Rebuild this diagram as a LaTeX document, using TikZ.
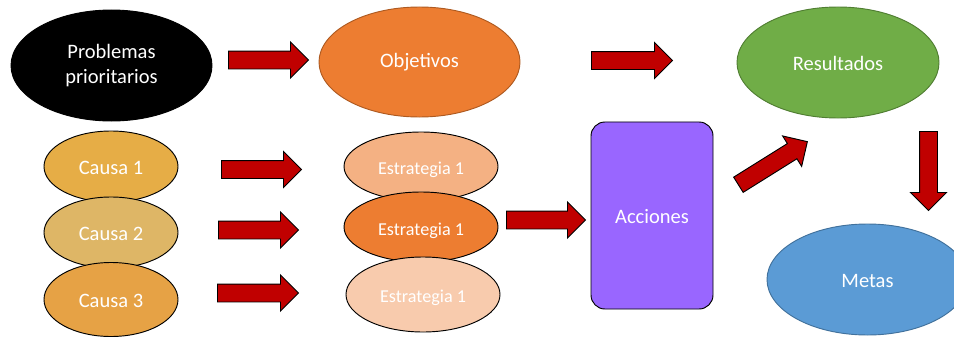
\documentclass[tikz,border=0pt]{standalone}
\usepackage{fontspec}
\setmainfont{Carlito}
\usetikzlibrary{shapes,shapes.arrows,positioning}

\definecolor{arrowred}{HTML}{C00000}
\definecolor{causaA}{HTML}{E6AD46}
\definecolor{causaB}{HTML}{DEB666}
\definecolor{causaC}{HTML}{E6A245}
\definecolor{estrA}{HTML}{F4B183}
\definecolor{estrB}{HTML}{ED7D31}
\definecolor{estrC}{HTML}{F8CBAD}
\definecolor{objfill}{HTML}{ED7D31}
\definecolor{objline}{HTML}{AE5A21}
\definecolor{resfill}{HTML}{70AD47}
\definecolor{resline}{HTML}{507E32}
\definecolor{metfill}{HTML}{5B9BD5}
\definecolor{metline}{HTML}{41719C}
\definecolor{accfill}{HTML}{9966FF}

\tikzset{
  oval/.style={ellipse,draw,line width=0.8pt,inner sep=0pt,text=white,align=center,font=\fontsize{17.5}{22}\selectfont},
  oneline/.style={text height=14pt,text depth=0pt},
  bigoval/.style={oval,minimum width=6.03cm,minimum height=3.33cm},
  causa/.style={oval,oneline,minimum width=4.02cm,minimum height=2.13cm},
  estrategia/.style={oval,oneline,minimum width=4.62cm,minimum height=2.1cm,font=\fontsize{15.5}{18}\selectfont},
  fatarrow/.style={single arrow,draw=black,fill=arrowred,line width=0.8pt,inner xsep=0pt,inner ysep=0.255cm,
    minimum height=2.4cm,single arrow head extend=0.27cm,anchor=tail},
}

\begin{document}
\begin{tikzpicture}[x=0.03cm,y=-0.03cm]
\clip (0,0) rectangle (954,337);

% top row
\node[bigoval,fill=black,draw=black] at (111.5,65.5) (problemas){Problemas\\prioritarios};
\node[bigoval,fill=objfill,draw=objline,minimum height=3.3cm] at (419.5,62) (objetivos){Objetivos};
\node[bigoval,oneline,fill=resfill,draw=resline,minimum width=6.06cm] at (838,62.5) (resultados){Resultados};

% causas
\node[causa,fill=causaA] at (111,166.5) (causa1){Causa 1};
\node[causa,fill=causaB] at (111,232.5) (causa2){Causa 2};
\node[causa,fill=causaC,minimum height=2.22cm] at (111,299.5) (causa3){Causa 3};

% estrategias
\node[estrategia,fill=estrA,minimum height=2.07cm] at (421,166.5) (estr1){Estrategia 1};
\node[estrategia,fill=estrB] at (421,227) (estr2){Estrategia 1};
\node[estrategia,fill=estrC,minimum height=2.25cm] at (423,294.5) (estr3){Estrategia 1};

\node[draw,line width=0.8pt,fill=accfill,rounded corners=0.42cm,minimum width=3.66cm,minimum height=5.61cm,
  oneline,text=white,font=\fontsize{17.5}{22}\selectfont] at (652,215.5) (acciones){Acciones};
\node[bigoval,oneline,fill=metfill,draw=metline] at (867.5,279.5) (metas){Metas};

% block arrows, placed by their tails
\node[fatarrow] at (228,60) (arr1){};
\node[fatarrow,minimum height=2.43cm] at (591,60.5) (arr2){};
\node[fatarrow] at (221,169.5) (arr3){};
\node[fatarrow] at (218,230) (arr4){};
\node[fatarrow,minimum height=2.43cm] at (217,293) (arr5){};
\node[fatarrow,minimum height=2.37cm] at (506,220) (arr6){};
\node[fatarrow,rotate=32,minimum height=2.44cm] at (738,185) (arr7){};
\node[fatarrow,rotate=-90,minimum height=2.37cm] at (928.5,131) (arr8){};

\end{tikzpicture}
\end{document}
